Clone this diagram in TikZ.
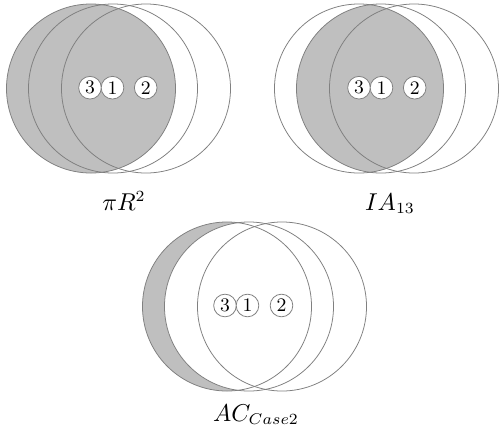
\documentclass[tikz,border=0pt]{standalone}
\begin{document}
\begin{tikzpicture}[x=0.45pt,y=-0.45pt,
  big/.style={draw=black!50,line width=0.35pt},
  shade/.style={fill=black!25},
  small/.style={circle,draw=black!50,line width=0.35pt,fill=white,minimum size=10.2pt,inner sep=0pt,font=\fontsize{8.6}{10}\selectfont},
  lbl/.style={anchor=base,font=\fontsize{10.5}{12}\selectfont}]
\def\R{38.03pt}
\useasboundingbox (0,0) rectangle (499,435);
% centres
\coordinate (a3) at (91,88.5);  \coordinate (a1) at (113,88.5);  \coordinate (a2) at (146,88.5);
\coordinate (b3) at (359,88.5); \coordinate (b1) at (381,88.5);  \coordinate (b2) at (414,88.5);
\coordinate (c3) at (227,306.5);\coordinate (c1) at (249,306.5); \coordinate (c2) at (282,306.5);
% top-left: circle 3 shaded
\fill[shade] (a3) circle[radius=\R];
\foreach \c in {a3,a1,a2} \draw[big] (\c) circle[radius=\R];
% top-right: intersection of 1 and 3
\begin{scope}
  \clip (b3) circle[radius=\R];
  \fill[shade] (b1) circle[radius=\R];
\end{scope}
\foreach \c in {b3,b1,b2} \draw[big] (\c) circle[radius=\R];
% bottom: circle 3 minus circle 1
\fill[shade] (c3) circle[radius=\R];
\fill[white] (c1) circle[radius=\R];
\foreach \c in {c3,c1,c2} \draw[big] (\c) circle[radius=\R];
% small circles
\node[small] (sa3) at (90,87.7) {3};
\node[small] (sa1) at (112.5,87.7) {1};
\node[small] (sa2) at (145.7,87.7) {2};
\node[small] (sb3) at (359,87.7) {3};
\node[small] (sb1) at (381.5,87.7) {1};
\node[small] (sb2) at (414.7,87.7) {2};
\node[small] (sc3) at (225,305.5) {3};
\node[small] (sc1) at (247.5,305.5) {1};
\node[small] (sc2) at (281.5,305.5) {2};
% labels
\node[lbl] (la) at (124,210) {$\pi R^2$};
\node[lbl] (lb) at (390,210) {$IA_{13}$};
\node[lbl] (lc) at (256,421) {$AC_{Case2}$};
\end{tikzpicture}
\end{document}
